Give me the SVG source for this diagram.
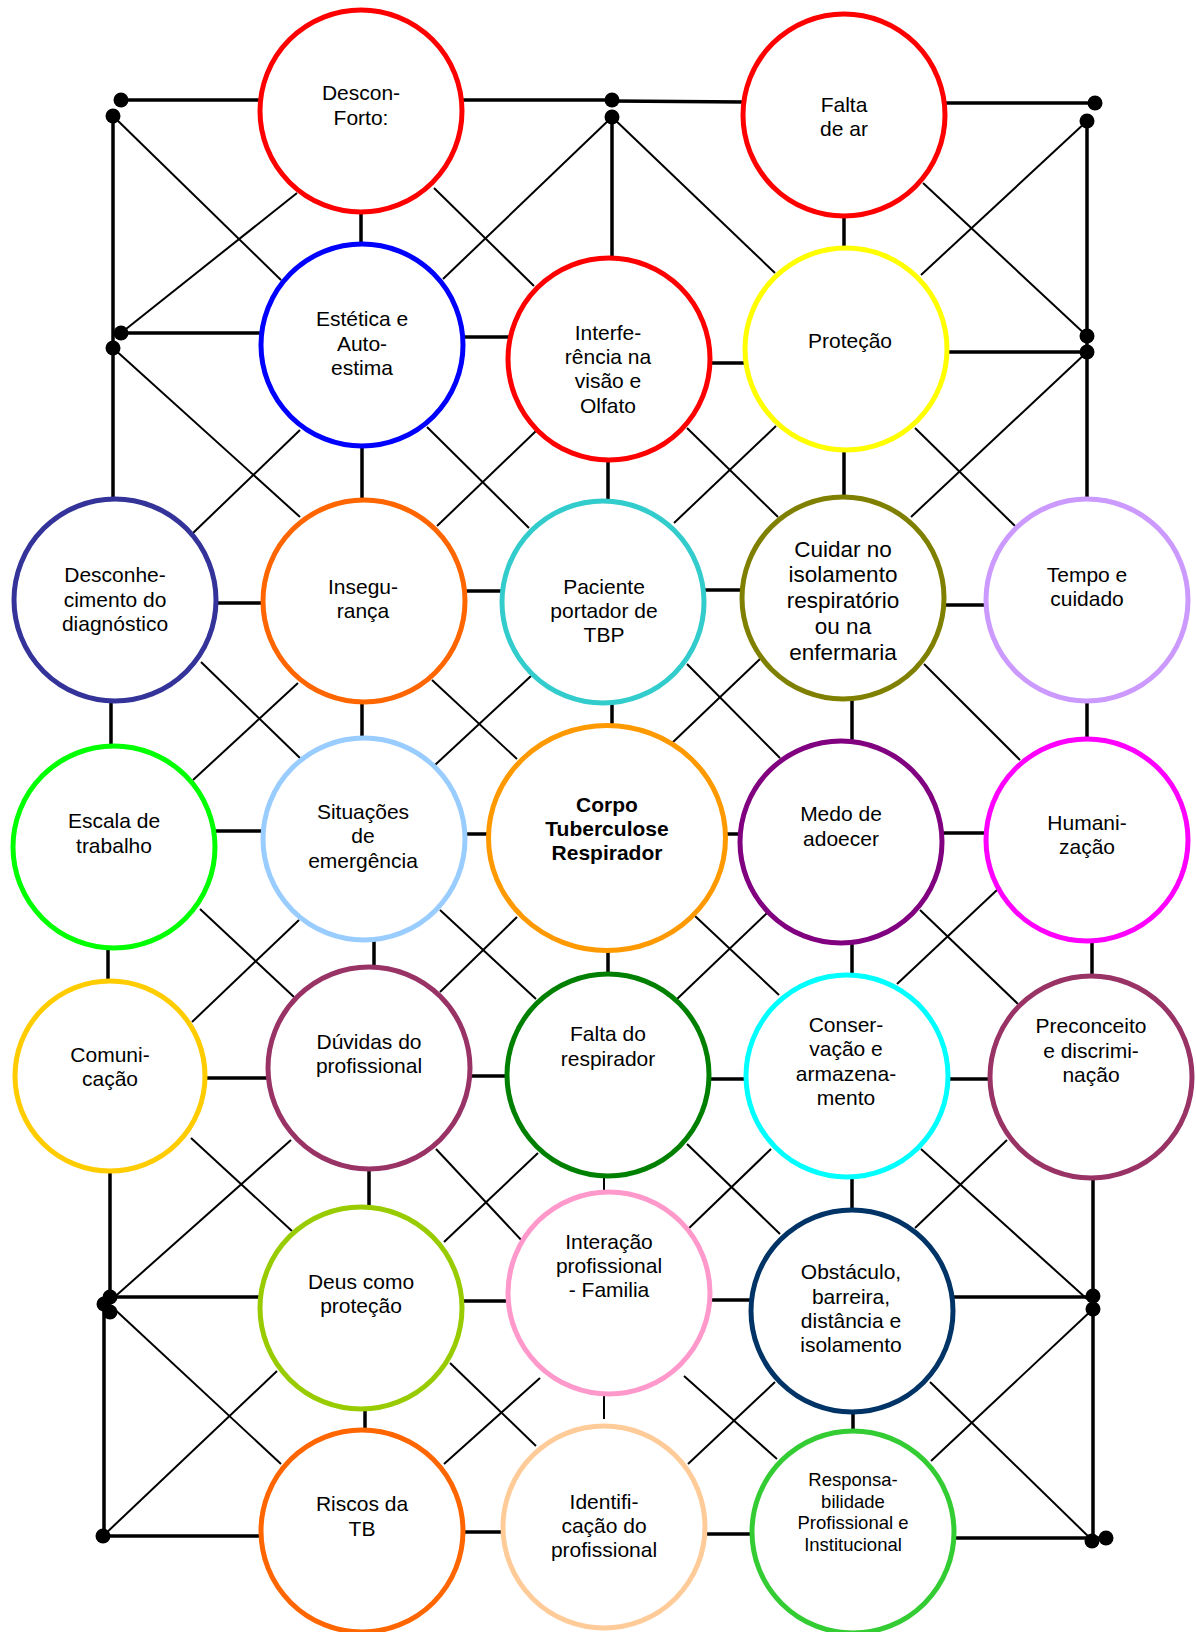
<svg xmlns="http://www.w3.org/2000/svg" width="1196" height="1632" viewBox="0 0 1196 1632">
<style>
.t{stroke:#000;stroke-width:3.5;fill:none}
.d{stroke:#000;stroke-width:2;fill:none}
.n{fill:#fff;stroke-width:5}
.dot{fill:#000}
text{font-family:"Liberation Sans",Arial,sans-serif;font-size:21px;fill:#000;text-anchor:middle}
.b{font-weight:bold}
.s{font-size:18.5px}
.l{font-size:22.5px}
</style>
<rect width="1196" height="1632" fill="#fff"/>
<g id="connectors">
<g class="t">
<line x1="121" y1="100" x2="262" y2="100"/>
<line x1="460" y1="100" x2="612" y2="100"/>
<line x1="612" y1="101" x2="745" y2="102"/>
<line x1="943" y1="103" x2="1094" y2="103"/>
<line x1="113" y1="116" x2="113" y2="499"/>
<line x1="612" y1="117" x2="612" y2="258"/>
<line x1="1087" y1="121" x2="1087" y2="499"/>
<line x1="121" y1="333" x2="262" y2="333"/>
<line x1="946" y1="352" x2="1087" y2="352"/>
<line x1="110" y1="1172" x2="110" y2="1304"/>
<line x1="110" y1="1297" x2="260" y2="1297"/>
<line x1="104" y1="1304" x2="104" y2="1536"/>
<line x1="103" y1="1536" x2="260" y2="1536"/>
<line x1="1093" y1="1179" x2="1093" y2="1540"/>
<line x1="953" y1="1297" x2="1093" y2="1297"/>
<line x1="954" y1="1538" x2="1106" y2="1538"/>
<line x1="361" y1="211" x2="361" y2="245"/>
<line x1="844" y1="216" x2="844" y2="248"/>
<line x1="462" y1="337" x2="510" y2="337"/>
<line x1="709" y1="363" x2="746" y2="363"/>
<line x1="362" y1="446" x2="362" y2="501"/>
<line x1="608" y1="460" x2="608" y2="501"/>
<line x1="844" y1="450" x2="844" y2="498"/>
<line x1="216" y1="603" x2="263" y2="603"/>
<line x1="465" y1="591" x2="502" y2="591"/>
<line x1="704" y1="590" x2="743" y2="590"/>
<line x1="944" y1="605" x2="986" y2="605"/>
<line x1="111" y1="702" x2="111" y2="746"/>
<line x1="362" y1="703" x2="362" y2="738"/>
<line x1="612" y1="703" x2="612" y2="726"/>
<line x1="852" y1="699" x2="852" y2="741"/>
<line x1="1087" y1="701" x2="1087" y2="739"/>
<line x1="215" y1="831" x2="263" y2="831"/>
<line x1="465" y1="834" x2="489" y2="834"/>
<line x1="724" y1="834" x2="741" y2="834"/>
<line x1="942" y1="833" x2="986" y2="833"/>
<line x1="108" y1="948" x2="108" y2="981"/>
<line x1="374" y1="940" x2="374" y2="967"/>
<line x1="608" y1="950" x2="608" y2="974"/>
<line x1="852" y1="943" x2="852" y2="975"/>
<line x1="1092" y1="941" x2="1092" y2="976"/>
<line x1="205" y1="1078" x2="268" y2="1078"/>
<line x1="470" y1="1076" x2="507" y2="1076"/>
<line x1="709" y1="1079" x2="745" y2="1079"/>
<line x1="948" y1="1079" x2="990" y2="1079"/>
<line x1="369" y1="1169" x2="369" y2="1207"/>
<line x1="852" y1="1177" x2="852" y2="1211"/>
<line x1="463" y1="1301" x2="508" y2="1301"/>
<line x1="711" y1="1300" x2="751" y2="1300"/>
<line x1="365" y1="1409" x2="365" y2="1430"/>
<line x1="853" y1="1412" x2="853" y2="1431"/>
<line x1="463" y1="1532" x2="502" y2="1532"/>
<line x1="705" y1="1534" x2="751" y2="1534"/>
</g>
<g class="d">
<line x1="604" y1="1174" x2="604" y2="1195"/>
<line x1="604" y1="1395" x2="604" y2="1419"/>
<line x1="113" y1="116" x2="281" y2="280"/>
<line x1="297" y1="193" x2="121" y2="333"/>
<line x1="434" y1="188" x2="534" y2="286"/>
<line x1="612" y1="117" x2="443" y2="279"/>
<line x1="612" y1="117" x2="775" y2="273"/>
<line x1="923" y1="183" x2="1087" y2="336"/>
<line x1="1087" y1="121" x2="921" y2="275"/>
<line x1="1087" y1="352" x2="911" y2="517"/>
<line x1="915" y1="428" x2="1015" y2="526"/>
<line x1="776" y1="426" x2="674" y2="523"/>
<line x1="687" y1="428" x2="778" y2="517"/>
<line x1="536" y1="431" x2="437" y2="526"/>
<line x1="427" y1="427" x2="529" y2="528"/>
<line x1="300" y1="430" x2="193" y2="533"/>
<line x1="113" y1="348" x2="300" y2="517"/>
<line x1="201" y1="662" x2="300" y2="758"/>
<line x1="298" y1="683" x2="193" y2="780"/>
<line x1="432" y1="680" x2="517" y2="759"/>
<line x1="531" y1="676" x2="435" y2="765"/>
<line x1="687" y1="664" x2="780" y2="758"/>
<line x1="760" y1="659" x2="672" y2="743"/>
<line x1="924" y1="664" x2="1020" y2="760"/>
<line x1="997" y1="890" x2="897" y2="984"/>
<line x1="200" y1="909" x2="294" y2="997"/>
<line x1="299" y1="920" x2="192" y2="1022"/>
<line x1="440" y1="910" x2="536" y2="999"/>
<line x1="517" y1="917" x2="440" y2="992"/>
<line x1="695" y1="916" x2="779" y2="995"/>
<line x1="767" y1="913" x2="677" y2="999"/>
<line x1="920" y1="910" x2="1018" y2="1004"/>
<line x1="191" y1="1138" x2="292" y2="1231"/>
<line x1="291" y1="1140" x2="110" y2="1301"/>
<line x1="436" y1="1149" x2="524" y2="1243"/>
<line x1="538" y1="1153" x2="444" y2="1242"/>
<line x1="687" y1="1144" x2="780" y2="1234"/>
<line x1="771" y1="1149" x2="685" y2="1232"/>
<line x1="921" y1="1149" x2="1087" y2="1299"/>
<line x1="1007" y1="1140" x2="915" y2="1228"/>
<line x1="110" y1="1305" x2="281" y2="1464"/>
<line x1="277" y1="1371" x2="103" y2="1536"/>
<line x1="450" y1="1363" x2="536" y2="1446"/>
<line x1="540" y1="1378" x2="444" y2="1464"/>
<line x1="684" y1="1376" x2="777" y2="1459"/>
<line x1="775" y1="1382" x2="688" y2="1464"/>
<line x1="930" y1="1382" x2="1092" y2="1540"/>
<line x1="1093" y1="1309" x2="931" y2="1461"/>
</g>
<g class="dot">
<circle cx="121" cy="100" r="7.5"/>
<circle cx="113" cy="116" r="7.5"/>
<circle cx="612" cy="100" r="7.5"/>
<circle cx="612" cy="117" r="7.5"/>
<circle cx="1095" cy="103" r="7.5"/>
<circle cx="1087" cy="121" r="7.5"/>
<circle cx="121" cy="333" r="7.5"/>
<circle cx="113" cy="348" r="7.5"/>
<circle cx="1087" cy="336" r="7.5"/>
<circle cx="1087" cy="352" r="7.5"/>
<circle cx="104" cy="1304" r="7.5"/>
<circle cx="110" cy="1297" r="7.5"/>
<circle cx="110" cy="1312" r="7.5"/>
<circle cx="103" cy="1536" r="7.5"/>
<circle cx="1093" cy="1296" r="7.5"/>
<circle cx="1093" cy="1309" r="7.5"/>
<circle cx="1092" cy="1541" r="7.5"/>
<circle cx="1106" cy="1538" r="7.5"/>
</g>
</g>
<g id="n-desconforto"><ellipse class="n" cx="361" cy="111" rx="101" ry="101" stroke="#FF0000"/><text x="361" y="100">Descon-</text><text x="361" y="125">Forto:</text></g>
<g id="n-faltadear"><ellipse class="n" cx="844" cy="115" rx="101" ry="101" stroke="#FF0000"/><text x="844" y="112">Falta</text><text x="844" y="136">de ar</text></g>
<g id="n-estetica"><ellipse class="n" cx="362" cy="345" rx="101" ry="101" stroke="#0000FF"/><text x="362" y="326">Estética e</text><text x="362" y="351">Auto-</text><text x="362" y="375">estima</text></g>
<g id="n-interferencia"><ellipse class="n" cx="609" cy="359" rx="101" ry="101" stroke="#FF0000"/><text x="608" y="340">Interfe-</text><text x="608" y="364">rência na</text><text x="608" y="388">visão e</text><text x="608" y="413">Olfato</text></g>
<g id="n-protecao"><ellipse class="n" cx="846" cy="349" rx="101" ry="101" stroke="#FFFF00"/><text x="850" y="348">Proteção</text></g>
<g id="n-desconhecimento"><ellipse class="n" cx="115" cy="600" rx="101" ry="101" stroke="#333399"/><text x="115" y="582">Desconhe-</text><text x="115" y="607">cimento do</text><text x="115" y="631">diagnóstico</text></g>
<g id="n-inseguranca"><ellipse class="n" cx="364" cy="601" rx="101" ry="101" stroke="#FF6600"/><text x="363" y="594">Insegu-</text><text x="363" y="618">rança</text></g>
<g id="n-paciente"><ellipse class="n" cx="603" cy="602" rx="101" ry="101" stroke="#33CCCC"/><text x="604" y="594">Paciente</text><text x="604" y="618">portador de</text><text x="604" y="642">TBP</text></g>
<g id="n-cuidar"><ellipse class="n" cx="843" cy="598" rx="101" ry="101" stroke="#808000"/><text class="l" x="843" y="557">Cuidar no</text><text class="l" x="843" y="582">isolamento</text><text class="l" x="843" y="608">respiratório</text><text class="l" x="843" y="634">ou na</text><text class="l" x="843" y="660">enfermaria</text></g>
<g id="n-tempo"><ellipse class="n" cx="1087" cy="600" rx="101" ry="101" stroke="#CC99FF"/><text x="1087" y="582">Tempo e</text><text x="1087" y="606">cuidado</text></g>
<g id="n-escala"><ellipse class="n" cx="114" cy="847" rx="101" ry="101" stroke="#00FF00"/><text x="114" y="828">Escala de</text><text x="114" y="853">trabalho</text></g>
<g id="n-situacoes"><ellipse class="n" cx="364" cy="839" rx="101" ry="101" stroke="#99CCFF"/><text x="363" y="819">Situações</text><text x="363" y="843">de</text><text x="363" y="868">emergência</text></g>
<g id="n-corpo"><ellipse class="n" cx="607" cy="838" rx="118.5" ry="112.5" stroke="#FF9900"/><text class="b" x="607" y="812">Corpo</text><text class="b" x="607" y="836">Tuberculose</text><text class="b" x="607" y="860">Respirador</text></g>
<g id="n-medo"><ellipse class="n" cx="841" cy="842" rx="101" ry="101" stroke="#800080"/><text x="841" y="821">Medo de</text><text x="841" y="846">adoecer</text></g>
<g id="n-humanizacao"><ellipse class="n" cx="1087" cy="840" rx="101" ry="101" stroke="#FF00FF"/><text x="1087" y="830">Humani-</text><text x="1087" y="854">zação</text></g>
<g id="n-comunicacao"><ellipse class="n" cx="110" cy="1076" rx="95" ry="95" stroke="#FFCC00"/><text x="110" y="1062">Comuni-</text><text x="110" y="1086">cação</text></g>
<g id="n-duvidas"><ellipse class="n" cx="369" cy="1068" rx="101" ry="101" stroke="#993366"/><text x="369" y="1049">Dúvidas do</text><text x="369" y="1073">profissional</text></g>
<g id="n-faltaresp"><ellipse class="n" cx="608" cy="1075" rx="101" ry="101" stroke="#008000"/><text x="608" y="1041">Falta do</text><text x="608" y="1066">respirador</text></g>
<g id="n-conservacao"><ellipse class="n" cx="847" cy="1076" rx="101" ry="101" stroke="#00FFFF"/><text x="846" y="1032">Conser-</text><text x="846" y="1056">vação e</text><text x="846" y="1081">armazena-</text><text x="846" y="1105">mento</text></g>
<g id="n-preconceito"><ellipse class="n" cx="1091" cy="1077" rx="101" ry="101" stroke="#993366"/><text x="1091" y="1033">Preconceito</text><text x="1091" y="1058">e discrimi-</text><text x="1091" y="1082">nação</text></g>
<g id="n-deus"><ellipse class="n" cx="361" cy="1308" rx="101" ry="101" stroke="#99CC00"/><text x="361" y="1289">Deus como</text><text x="361" y="1313">proteção</text></g>
<g id="n-interacao"><ellipse class="n" cx="609" cy="1293" rx="101" ry="101" stroke="#FF99CC"/><text x="609" y="1249">Interação</text><text x="609" y="1273">profissional</text><text x="609" y="1297">- Familia</text></g>
<g id="n-obstaculo"><ellipse class="n" cx="852" cy="1311" rx="101" ry="101" stroke="#003366"/><text x="851" y="1279">Obstáculo,</text><text x="851" y="1304">barreira,</text><text x="851" y="1328">distância e</text><text x="851" y="1352">isolamento</text></g>
<g id="n-riscos"><ellipse class="n" cx="362" cy="1531" rx="101" ry="101" stroke="#FF6600"/><text x="362" y="1511">Riscos da</text><text x="362" y="1536">TB</text></g>
<g id="n-identificacao"><ellipse class="n" cx="604" cy="1527" rx="101" ry="101" stroke="#FFCC99"/><text x="604" y="1509">Identifi-</text><text x="604" y="1533">cação do</text><text x="604" y="1557">profissional</text></g>
<g id="n-responsabilidade"><ellipse class="n" cx="853" cy="1532" rx="101" ry="101" stroke="#33CC33"/><text class="s" x="853" y="1486">Responsa-</text><text class="s" x="853" y="1508">bilidade</text><text class="s" x="853" y="1529">Profissional e</text><text class="s" x="853" y="1551">Institucional</text></g>
</svg>
